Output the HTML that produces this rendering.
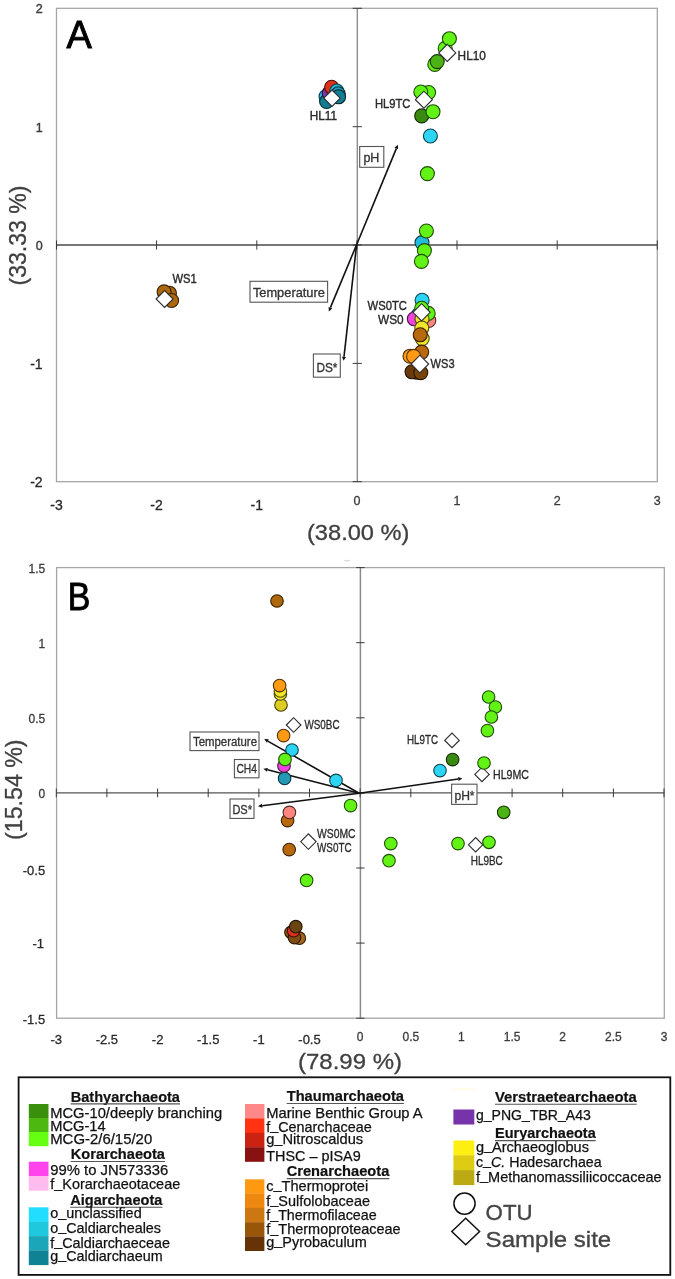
<!DOCTYPE html>
<html lang="en"><head><meta charset="utf-8"><title>Figure</title>
<style>html,body{margin:0;padding:0;background:#fff}svg{display:block}text{font-family:'Liberation Sans', sans-serif}</style></head><body>
<svg width="675" height="1279" viewBox="0 0 675 1279">
<rect width="675" height="1279" fill="#fff"/>
<rect x="56.5" y="8.3" width="600.8" height="473.4" fill="none" stroke="#a6a6a6" stroke-width="1.3"/>
<line x1="357.3" y1="8.3" x2="357.3" y2="481.7" stroke="#8e8e8e" stroke-width="1.4"/>
<line x1="56.5" y1="245.0" x2="657.3" y2="245.0" stroke="#4a4a4a" stroke-width="1.3"/>
<line x1="56.5" y1="240.4" x2="56.5" y2="249.6" stroke="#3a3a3a" stroke-width="1"/>
<line x1="156.6" y1="240.4" x2="156.6" y2="249.6" stroke="#3a3a3a" stroke-width="1"/>
<line x1="256.8" y1="240.4" x2="256.8" y2="249.6" stroke="#3a3a3a" stroke-width="1"/>
<line x1="356.9" y1="240.4" x2="356.9" y2="249.6" stroke="#3a3a3a" stroke-width="1"/>
<line x1="457.0" y1="240.4" x2="457.0" y2="249.6" stroke="#3a3a3a" stroke-width="1"/>
<line x1="557.2" y1="240.4" x2="557.2" y2="249.6" stroke="#3a3a3a" stroke-width="1"/>
<line x1="657.3" y1="240.4" x2="657.3" y2="249.6" stroke="#3a3a3a" stroke-width="1"/>
<line x1="352.7" y1="481.7" x2="361.9" y2="481.7" stroke="#3a3a3a" stroke-width="1"/>
<line x1="352.7" y1="363.4" x2="361.9" y2="363.4" stroke="#3a3a3a" stroke-width="1"/>
<line x1="352.7" y1="245.0" x2="361.9" y2="245.0" stroke="#3a3a3a" stroke-width="1"/>
<line x1="352.7" y1="126.7" x2="361.9" y2="126.7" stroke="#3a3a3a" stroke-width="1"/>
<line x1="352.7" y1="8.3" x2="361.9" y2="8.3" stroke="#3a3a3a" stroke-width="1"/>
<text x="42.8" y="13.4" font-size="12.5" text-anchor="end" fill="#3c3c3c" font-weight="normal" stroke="#3c3c3c" stroke-width="0.4">2</text>
<text x="42.8" y="131.8" font-size="12.5" text-anchor="end" fill="#3c3c3c" font-weight="normal" stroke="#3c3c3c" stroke-width="0.4">1</text>
<text x="42.8" y="250.1" font-size="12.5" text-anchor="end" fill="#3c3c3c" font-weight="normal" stroke="#3c3c3c" stroke-width="0.4">0</text>
<text x="42.6" y="368.6" font-size="14" text-anchor="end" fill="#2a2a2a" font-weight="normal" stroke="#2a2a2a" stroke-width="0.3">-1</text>
<text x="42.6" y="486.9" font-size="14" text-anchor="end" fill="#2a2a2a" font-weight="normal" stroke="#2a2a2a" stroke-width="0.3">-2</text>
<text x="56.5" y="510.3" font-size="14" text-anchor="middle" fill="#2a2a2a" font-weight="normal" stroke="#2a2a2a" stroke-width="0.3">-3</text>
<text x="156.6" y="510.3" font-size="14" text-anchor="middle" fill="#2a2a2a" font-weight="normal" stroke="#2a2a2a" stroke-width="0.3">-2</text>
<text x="256.8" y="510.3" font-size="14" text-anchor="middle" fill="#2a2a2a" font-weight="normal" stroke="#2a2a2a" stroke-width="0.3">-1</text>
<text x="356.9" y="505.4" font-size="12.5" text-anchor="middle" fill="#3c3c3c" font-weight="normal" stroke="#3c3c3c" stroke-width="0.3">0</text>
<text x="457.0" y="505.4" font-size="12.5" text-anchor="middle" fill="#3c3c3c" font-weight="normal" stroke="#3c3c3c" stroke-width="0.3">1</text>
<text x="557.2" y="505.4" font-size="12.5" text-anchor="middle" fill="#3c3c3c" font-weight="normal" stroke="#3c3c3c" stroke-width="0.3">2</text>
<text x="657.3" y="505.4" font-size="12.5" text-anchor="middle" fill="#3c3c3c" font-weight="normal" stroke="#3c3c3c" stroke-width="0.3">3</text>
<text x="358.2" y="540" font-size="22.3" text-anchor="middle" fill="#404040" font-weight="normal" textLength="102.4" lengthAdjust="spacingAndGlyphs" stroke="#404040" stroke-width="0.3">(38.00 %)</text>
<text transform="translate(25.6 235.5) rotate(-90)" font-size="23.4" text-anchor="middle" fill="#404040" stroke="#404040" stroke-width="0.3" textLength="100" lengthAdjust="spacingAndGlyphs">(33.33 %)</text>
<text x="66.5" y="48.4" font-size="38" text-anchor="start" fill="#000" font-weight="normal" stroke="#000" stroke-width="0.9">A</text>
<line x1="356.6" y1="244.7" x2="396.3" y2="148.6" stroke="#111" stroke-width="1.6"/>
<path d="M397.9 144.7L398.1 149.3L394.4 147.8Z" fill="#111"/>
<line x1="356.6" y1="244.7" x2="330.4" y2="307.6" stroke="#111" stroke-width="1.6"/>
<path d="M328.8 311.5L328.6 306.9L332.3 308.4Z" fill="#111"/>
<line x1="356.6" y1="244.7" x2="344.0" y2="356.6" stroke="#111" stroke-width="1.6"/>
<path d="M343.5 360.8L342.0 356.4L346.0 356.9Z" fill="#111"/>
<rect x="359.7" y="146.5" width="24.1" height="20.8" fill="#fff" stroke="#555" stroke-width="1.1"/>
<text x="371.4" y="161.7" font-size="13.5" text-anchor="middle" fill="#333" font-weight="normal" textLength="16" lengthAdjust="spacingAndGlyphs" stroke="#333" stroke-width="0.35">pH</text>
<rect x="250" y="281.3" width="77.6" height="20.9" fill="#fff" stroke="#555" stroke-width="1.1"/>
<text x="288.9" y="297.3" font-size="13.5" text-anchor="middle" fill="#333" font-weight="normal" textLength="72" lengthAdjust="spacingAndGlyphs" stroke="#333" stroke-width="0.35">Temperature</text>
<rect x="313.4" y="354" width="26.9" height="23.2" fill="#fff" stroke="#555" stroke-width="1.1"/>
<text x="326.9" y="371.5" font-size="13.5" text-anchor="middle" fill="#333" font-weight="normal" textLength="21" lengthAdjust="spacingAndGlyphs" stroke="#333" stroke-width="0.35">DS*</text>
<circle cx="434.8" cy="64.4" r="7.0" fill="#62f216" stroke="#1f4d07" stroke-width="1.1"/>
<circle cx="437.2" cy="61.6" r="7.0" fill="#4db315" stroke="#183906" stroke-width="1.1"/>
<circle cx="445.2" cy="48.4" r="7.0" fill="#62f216" stroke="#1f4d07" stroke-width="1.1"/>
<circle cx="449.4" cy="38.7" r="7.0" fill="#62f216" stroke="#1f4d07" stroke-width="1.1"/>
<path d="M438.8 52.9L447.3 44.4L455.8 52.9L447.3 61.4Z" fill="#fff" stroke="#2b2b30" stroke-width="1.1"/>
<circle cx="428.6" cy="92.5" r="7.0" fill="#62f216" stroke="#1f4d07" stroke-width="1.1"/>
<circle cx="420.8" cy="92" r="7.0" fill="#62f216" stroke="#1f4d07" stroke-width="1.1"/>
<circle cx="421.7" cy="115.9" r="7.0" fill="#3a8a12" stroke="#122c05" stroke-width="1.1"/>
<circle cx="433" cy="111.7" r="7.0" fill="#62f216" stroke="#1f4d07" stroke-width="1.1"/>
<path d="M415.4 99.7L423.9 91.2L432.4 99.7L423.9 108.2Z" fill="#fff" stroke="#2b2b30" stroke-width="1.1"/>
<circle cx="430.4" cy="136" r="7.0" fill="#2dd4f4" stroke="#0e434e" stroke-width="1.1"/>
<circle cx="427.4" cy="173.6" r="7.0" fill="#62f216" stroke="#1f4d07" stroke-width="1.1"/>
<circle cx="422" cy="242.6" r="7.0" fill="#22bbdd" stroke="#0a3b46" stroke-width="1.1"/>
<circle cx="426.4" cy="231" r="7.0" fill="#62f216" stroke="#1f4d07" stroke-width="1.1"/>
<circle cx="424.4" cy="250.6" r="7.0" fill="#62f216" stroke="#1f4d07" stroke-width="1.1"/>
<circle cx="421.4" cy="261.4" r="7.0" fill="#62f216" stroke="#1f4d07" stroke-width="1.1"/>
<circle cx="422.1" cy="300.3" r="7.0" fill="#2dd4f4" stroke="#0e434e" stroke-width="1.1"/>
<circle cx="418.2" cy="315" r="7.0" fill="#22bbdd" stroke="#0a3b46" stroke-width="1.1"/>
<circle cx="414.3" cy="318.8" r="7.0" fill="#ee44dd" stroke="#4c1546" stroke-width="1.1"/>
<circle cx="428.8" cy="320.5" r="7.0" fill="#ff8580" stroke="#512a28" stroke-width="1.1"/>
<circle cx="428.2" cy="313.4" r="7.0" fill="#62f216" stroke="#1f4d07" stroke-width="1.1"/>
<circle cx="421.7" cy="308.3" r="7.0" fill="#62f216" stroke="#1f4d07" stroke-width="1.1"/>
<circle cx="422" cy="319" r="7.0" fill="#f0e62a" stroke="#4c490d" stroke-width="1.1"/>
<circle cx="421.8" cy="328" r="7.0" fill="#f0e62a" stroke="#4c490d" stroke-width="1.1"/>
<circle cx="422.2" cy="338.6" r="7.0" fill="#f0e62a" stroke="#4c490d" stroke-width="1.1"/>
<circle cx="420.2" cy="334.8" r="7.0" fill="#b9690d" stroke="#3b2104" stroke-width="1.1"/>
<path d="M413.0 312.3L421.6 303.7L430.20000000000005 312.3L421.6 320.90000000000003Z" fill="#fff" stroke="#2b2b30" stroke-width="1.1"/>
<circle cx="421.7" cy="352.1" r="7.0" fill="#b9690d" stroke="#3b2104" stroke-width="1.1"/>
<circle cx="410" cy="356.2" r="7.0" fill="#ff9a14" stroke="#513106" stroke-width="1.1"/>
<circle cx="413.6" cy="356.4" r="7.0" fill="#ff9a14" stroke="#513106" stroke-width="1.1"/>
<circle cx="417" cy="372.3" r="7.0" fill="#ad680b" stroke="#372103" stroke-width="1.1"/>
<circle cx="412" cy="371.8" r="7.0" fill="#6b3a0a" stroke="#221203" stroke-width="1.1"/>
<circle cx="420.8" cy="372.6" r="7.0" fill="#77430c" stroke="#261503" stroke-width="1.1"/>
<path d="M411.09999999999997 364L419.9 355.2L428.7 364L419.9 372.8Z" fill="#fff" stroke="#2b2b30" stroke-width="1.1"/>
<circle cx="326" cy="96.6" r="7.0" fill="#22bbdd" stroke="#0a3b46" stroke-width="1.1"/>
<circle cx="326.6" cy="101.5" r="7.0" fill="#147f92" stroke="#06282e" stroke-width="1.1"/>
<circle cx="329.2" cy="93.2" r="7.0" fill="#7a35b0" stroke="#271038" stroke-width="1.1"/>
<circle cx="331.6" cy="87.3" r="7.0" fill="#e0301a" stroke="#470f08" stroke-width="1.1"/>
<circle cx="336.8" cy="91" r="7.0" fill="#22bbdd" stroke="#0a3b46" stroke-width="1.1"/>
<circle cx="338.2" cy="93.8" r="7.0" fill="#2299b5" stroke="#0a3039" stroke-width="1.1"/>
<circle cx="338.6" cy="96.8" r="7.0" fill="#147f92" stroke="#06282e" stroke-width="1.1"/>
<path d="M323.8 98.2L332 90.0L340.2 98.2L332 106.4Z" fill="#fff" stroke="#2b2b30" stroke-width="1.1"/>
<circle cx="169.4" cy="293.2" r="7.0" fill="#ad680b" stroke="#372103" stroke-width="1.1"/>
<circle cx="164.1" cy="291.9" r="7.0" fill="#ad680b" stroke="#372103" stroke-width="1.1"/>
<circle cx="171.6" cy="300.5" r="7.0" fill="#ad680b" stroke="#372103" stroke-width="1.1"/>
<path d="M156.1 299L164.6 290.5L173.1 299L164.6 307.5Z" fill="#fff" stroke="#2b2b30" stroke-width="1.1"/>
<text x="457.6" y="60" font-size="13" text-anchor="start" fill="#2a2a2a" font-weight="normal" textLength="28.3" lengthAdjust="spacingAndGlyphs" stroke="#2a2a2a" stroke-width="0.4">HL10</text>
<text x="410.4" y="108" font-size="13" text-anchor="end" fill="#2a2a2a" font-weight="normal" textLength="35.5" lengthAdjust="spacingAndGlyphs" stroke="#2a2a2a" stroke-width="0.4">HL9TC</text>
<text x="309.7" y="120.3" font-size="13" text-anchor="start" fill="#2a2a2a" font-weight="normal" textLength="27.3" lengthAdjust="spacingAndGlyphs" stroke="#2a2a2a" stroke-width="0.4">HL11</text>
<text x="172.4" y="283" font-size="13" text-anchor="start" fill="#2a2a2a" font-weight="normal" textLength="24.3" lengthAdjust="spacingAndGlyphs" stroke="#2a2a2a" stroke-width="0.4">WS1</text>
<text x="407" y="310.4" font-size="13" text-anchor="end" fill="#2a2a2a" font-weight="normal" textLength="39.4" lengthAdjust="spacingAndGlyphs" stroke="#2a2a2a" stroke-width="0.4">WS0TC</text>
<text x="403.6" y="324.4" font-size="13" text-anchor="end" fill="#2a2a2a" font-weight="normal" textLength="25.6" lengthAdjust="spacingAndGlyphs" stroke="#2a2a2a" stroke-width="0.4">WS0</text>
<text x="430.6" y="368.4" font-size="13" text-anchor="start" fill="#2a2a2a" font-weight="normal" textLength="24" lengthAdjust="spacingAndGlyphs" stroke="#2a2a2a" stroke-width="0.4">WS3</text>
<path d="M344.3 560.2Q347 562 349.8 560.2" fill="none" stroke="#c8c8c8" stroke-width="0.9"/>
<rect x="56.6" y="567.6" width="607.7" height="450.6" fill="none" stroke="#a6a6a6" stroke-width="1.3"/>
<line x1="360.4" y1="567.6" x2="360.4" y2="1018.2" stroke="#8a8a8a" stroke-width="1.5"/>
<line x1="56.6" y1="792.9" x2="664.3" y2="792.9" stroke="#555" stroke-width="1.1"/>
<line x1="56.3" y1="788.5" x2="56.3" y2="797.3" stroke="#3a3a3a" stroke-width="1"/>
<line x1="106.9" y1="788.5" x2="106.9" y2="797.3" stroke="#3a3a3a" stroke-width="1"/>
<line x1="157.6" y1="788.5" x2="157.6" y2="797.3" stroke="#3a3a3a" stroke-width="1"/>
<line x1="208.2" y1="788.5" x2="208.2" y2="797.3" stroke="#3a3a3a" stroke-width="1"/>
<line x1="258.9" y1="788.5" x2="258.9" y2="797.3" stroke="#3a3a3a" stroke-width="1"/>
<line x1="309.5" y1="788.5" x2="309.5" y2="797.3" stroke="#3a3a3a" stroke-width="1"/>
<line x1="360.1" y1="788.5" x2="360.1" y2="797.3" stroke="#3a3a3a" stroke-width="1"/>
<line x1="410.8" y1="788.5" x2="410.8" y2="797.3" stroke="#3a3a3a" stroke-width="1"/>
<line x1="461.4" y1="788.5" x2="461.4" y2="797.3" stroke="#3a3a3a" stroke-width="1"/>
<line x1="512.1" y1="788.5" x2="512.1" y2="797.3" stroke="#3a3a3a" stroke-width="1"/>
<line x1="562.7" y1="788.5" x2="562.7" y2="797.3" stroke="#3a3a3a" stroke-width="1"/>
<line x1="613.4" y1="788.5" x2="613.4" y2="797.3" stroke="#3a3a3a" stroke-width="1"/>
<line x1="664.0" y1="788.5" x2="664.0" y2="797.3" stroke="#3a3a3a" stroke-width="1"/>
<line x1="356.2" y1="1018.2" x2="364.6" y2="1018.2" stroke="#3a3a3a" stroke-width="1"/>
<line x1="356.2" y1="943.1" x2="364.6" y2="943.1" stroke="#3a3a3a" stroke-width="1"/>
<line x1="356.2" y1="868.0" x2="364.6" y2="868.0" stroke="#3a3a3a" stroke-width="1"/>
<line x1="356.2" y1="792.9" x2="364.6" y2="792.9" stroke="#3a3a3a" stroke-width="1"/>
<line x1="356.2" y1="717.8" x2="364.6" y2="717.8" stroke="#3a3a3a" stroke-width="1"/>
<line x1="356.2" y1="642.7" x2="364.6" y2="642.7" stroke="#3a3a3a" stroke-width="1"/>
<line x1="356.2" y1="567.6" x2="364.6" y2="567.6" stroke="#3a3a3a" stroke-width="1"/>
<text x="45.3" y="572.5" font-size="12" text-anchor="end" fill="#3c3c3c" font-weight="normal" stroke="#3c3c3c" stroke-width="0.3">1.5</text>
<text x="45.3" y="647.6" font-size="12" text-anchor="end" fill="#3c3c3c" font-weight="normal" stroke="#3c3c3c" stroke-width="0.3">1</text>
<text x="45.3" y="722.7" font-size="12" text-anchor="end" fill="#3c3c3c" font-weight="normal" stroke="#3c3c3c" stroke-width="0.3">0.5</text>
<text x="45.3" y="797.8" font-size="12" text-anchor="end" fill="#3c3c3c" font-weight="normal" stroke="#3c3c3c" stroke-width="0.3">0</text>
<text x="45.2" y="874.5" font-size="13" text-anchor="end" fill="#2a2a2a" font-weight="normal" stroke="#2a2a2a" stroke-width="0.3">-0.5</text>
<text x="44" y="948.2" font-size="13" text-anchor="end" fill="#2a2a2a" font-weight="normal" stroke="#2a2a2a" stroke-width="0.3">-1</text>
<text x="45.2" y="1023.7" font-size="13" text-anchor="end" fill="#2a2a2a" font-weight="normal" stroke="#2a2a2a" stroke-width="0.3">-1.5</text>
<text x="56.3" y="1044" font-size="13" text-anchor="middle" fill="#2a2a2a" font-weight="normal" stroke="#2a2a2a" stroke-width="0.3">-3</text>
<text x="106.9" y="1044" font-size="13" text-anchor="middle" fill="#2a2a2a" font-weight="normal" stroke="#2a2a2a" stroke-width="0.3">-2.5</text>
<text x="157.6" y="1044" font-size="13" text-anchor="middle" fill="#2a2a2a" font-weight="normal" stroke="#2a2a2a" stroke-width="0.3">-2</text>
<text x="208.2" y="1044" font-size="13" text-anchor="middle" fill="#2a2a2a" font-weight="normal" stroke="#2a2a2a" stroke-width="0.3">-1.5</text>
<text x="258.9" y="1044" font-size="13" text-anchor="middle" fill="#2a2a2a" font-weight="normal" stroke="#2a2a2a" stroke-width="0.3">-1</text>
<text x="309.5" y="1044" font-size="13" text-anchor="middle" fill="#2a2a2a" font-weight="normal" stroke="#2a2a2a" stroke-width="0.3">-0.5</text>
<text x="360.1" y="1040.8" font-size="12" text-anchor="middle" fill="#3c3c3c" font-weight="normal" stroke="#3c3c3c" stroke-width="0.3">0</text>
<text x="410.8" y="1040.8" font-size="12" text-anchor="middle" fill="#3c3c3c" font-weight="normal" stroke="#3c3c3c" stroke-width="0.3">0.5</text>
<text x="461.4" y="1040.8" font-size="12" text-anchor="middle" fill="#3c3c3c" font-weight="normal" stroke="#3c3c3c" stroke-width="0.3">1</text>
<text x="512.1" y="1040.8" font-size="12" text-anchor="middle" fill="#3c3c3c" font-weight="normal" stroke="#3c3c3c" stroke-width="0.3">1.5</text>
<text x="562.7" y="1040.8" font-size="12" text-anchor="middle" fill="#3c3c3c" font-weight="normal" stroke="#3c3c3c" stroke-width="0.3">2</text>
<text x="613.4" y="1040.8" font-size="12" text-anchor="middle" fill="#3c3c3c" font-weight="normal" stroke="#3c3c3c" stroke-width="0.3">2.5</text>
<text x="664.0" y="1040.8" font-size="12" text-anchor="middle" fill="#3c3c3c" font-weight="normal" stroke="#3c3c3c" stroke-width="0.3">3</text>
<text x="350" y="1069" font-size="22" text-anchor="middle" fill="#404040" font-weight="normal" textLength="104" lengthAdjust="spacingAndGlyphs" stroke="#404040" stroke-width="0.3">(78.99 %)</text>
<text transform="translate(22.4 789.7) rotate(-90)" font-size="23.2" text-anchor="middle" fill="#404040" stroke="#404040" stroke-width="0.3" textLength="100.6" lengthAdjust="spacingAndGlyphs">(15.54 %)</text>
<text x="67.8" y="610.3" font-size="38" text-anchor="start" fill="#000" font-weight="normal" textLength="22.6" lengthAdjust="spacingAndGlyphs" stroke="#000" stroke-width="0.9">B</text>
<line x1="359.2" y1="793.2" x2="267.8" y2="741.1" stroke="#111" stroke-width="1.6"/>
<path d="M264.2 739L268.8 739.3L266.9 742.8Z" fill="#111"/>
<line x1="359.2" y1="793.2" x2="267.5" y2="769.8" stroke="#111" stroke-width="1.6"/>
<path d="M263.4 768.8L268.0 767.9L267.0 771.8Z" fill="#111"/>
<line x1="359.2" y1="793.2" x2="262.2" y2="805.8" stroke="#111" stroke-width="1.6"/>
<path d="M258 806.3L261.9 803.8L262.4 807.7Z" fill="#111"/>
<line x1="359.2" y1="793.2" x2="458.2" y2="779.0" stroke="#111" stroke-width="1.6"/>
<path d="M462.4 778.4L458.5 781.0L458.0 777.0Z" fill="#111"/>
<circle cx="277" cy="601" r="6.3" fill="#ad680b" stroke="#372103" stroke-width="1.1"/>
<circle cx="281" cy="705" r="6.3" fill="#ddcc22" stroke="#46410a" stroke-width="1.1"/>
<circle cx="280.4" cy="694" r="6.3" fill="#f0e62a" stroke="#4c490d" stroke-width="1.1"/>
<circle cx="280.4" cy="691" r="6.3" fill="#f0e62a" stroke="#4c490d" stroke-width="1.1"/>
<circle cx="279.6" cy="685.6" r="6.3" fill="#ff9a14" stroke="#513106" stroke-width="1.1"/>
<circle cx="283.6" cy="735.6" r="6.3" fill="#ff9a14" stroke="#513106" stroke-width="1.1"/>
<circle cx="292" cy="750" r="6.3" fill="#2dd4f4" stroke="#0e434e" stroke-width="1.1"/>
<circle cx="284.6" cy="778.4" r="6.3" fill="#2299b5" stroke="#0a3039" stroke-width="1.1"/>
<circle cx="284" cy="766" r="6.3" fill="#ee44dd" stroke="#4c1546" stroke-width="1.1"/>
<circle cx="285" cy="759.4" r="6.3" fill="#62f216" stroke="#1f4d07" stroke-width="1.1"/>
<circle cx="336" cy="780.4" r="6.3" fill="#2dd4f4" stroke="#0e434e" stroke-width="1.1"/>
<circle cx="350.6" cy="805.6" r="6.3" fill="#62f216" stroke="#1f4d07" stroke-width="1.1"/>
<circle cx="287.6" cy="820.6" r="6.3" fill="#b9690d" stroke="#3b2104" stroke-width="1.1"/>
<circle cx="289.4" cy="812.4" r="6.3" fill="#ff8580" stroke="#512a28" stroke-width="1.1"/>
<circle cx="289.2" cy="849.6" r="6.3" fill="#b9690d" stroke="#3b2104" stroke-width="1.1"/>
<circle cx="306.6" cy="880.4" r="6.3" fill="#62f216" stroke="#1f4d07" stroke-width="1.1"/>
<circle cx="291" cy="932.3" r="6.3" fill="#8a5510" stroke="#2c1b05" stroke-width="1.1"/>
<circle cx="299.3" cy="938.2" r="6.3" fill="#a5661a" stroke="#342008" stroke-width="1.1"/>
<circle cx="294.5" cy="937.6" r="6.3" fill="#7d4c10" stroke="#281805" stroke-width="1.1"/>
<circle cx="293.6" cy="930.7" r="6.3" fill="#e0301a" stroke="#470f08" stroke-width="1.1"/>
<circle cx="295.8" cy="926.7" r="6.3" fill="#6b4511" stroke="#221605" stroke-width="1.1"/>
<circle cx="488.6" cy="697" r="6.3" fill="#62f216" stroke="#1f4d07" stroke-width="1.1"/>
<circle cx="495.4" cy="707" r="6.3" fill="#62f216" stroke="#1f4d07" stroke-width="1.1"/>
<circle cx="491.4" cy="717" r="6.3" fill="#62f216" stroke="#1f4d07" stroke-width="1.1"/>
<circle cx="487.4" cy="730.6" r="6.3" fill="#62f216" stroke="#1f4d07" stroke-width="1.1"/>
<path d="M474.8 774.4L482 767.1999999999999L489.2 774.4L482 781.6Z" fill="#fff" stroke="#2b2b30" stroke-width="1.1"/>
<path d="M468.40000000000003 844.8L475.6 837.5999999999999L482.8 844.8L475.6 852.0Z" fill="#fff" stroke="#2b2b30" stroke-width="1.1"/>
<circle cx="452.6" cy="759.6" r="6.3" fill="#3a8a12" stroke="#122c05" stroke-width="1.1"/>
<circle cx="440" cy="770.6" r="6.3" fill="#2dd4f4" stroke="#0e434e" stroke-width="1.1"/>
<circle cx="484" cy="763" r="6.3" fill="#62f216" stroke="#1f4d07" stroke-width="1.1"/>
<circle cx="503.7" cy="812.3" r="6.3" fill="#4db315" stroke="#183906" stroke-width="1.1"/>
<circle cx="390.8" cy="843.6" r="6.3" fill="#62f216" stroke="#1f4d07" stroke-width="1.1"/>
<circle cx="389" cy="860.7" r="6.3" fill="#62f216" stroke="#1f4d07" stroke-width="1.1"/>
<circle cx="458" cy="843.6" r="6.3" fill="#62f216" stroke="#1f4d07" stroke-width="1.1"/>
<circle cx="489" cy="842.3" r="6.3" fill="#62f216" stroke="#1f4d07" stroke-width="1.1"/>
<path d="M286.3 725L293.6 717.7L300.90000000000003 725L293.6 732.3Z" fill="#fff" stroke="#2b2b30" stroke-width="1.1"/>
<path d="M300.7 841.6L308.4 833.9L316.09999999999997 841.6L308.4 849.3000000000001Z" fill="#fff" stroke="#2b2b30" stroke-width="1.1"/>
<path d="M444.7 740.4L452 733.1L459.3 740.4L452 747.6999999999999Z" fill="#fff" stroke="#2b2b30" stroke-width="1.1"/>
<rect x="190" y="732" width="69.0" height="18.6" fill="#fff" stroke="#555" stroke-width="1.1"/>
<text x="225" y="746" font-size="12" text-anchor="middle" fill="#333" font-weight="normal" textLength="64" lengthAdjust="spacingAndGlyphs" stroke="#333" stroke-width="0.3">Temperature</text>
<rect x="234.4" y="759.5" width="24.6" height="18.3" fill="#fff" stroke="#555" stroke-width="1.1"/>
<text x="246.7" y="773" font-size="12" text-anchor="middle" fill="#333" font-weight="normal" textLength="20.6" lengthAdjust="spacingAndGlyphs" stroke="#333" stroke-width="0.3">CH4</text>
<rect x="230" y="799" width="24.0" height="19.4" fill="#fff" stroke="#555" stroke-width="1.1"/>
<text x="242.2" y="814.4" font-size="12" text-anchor="middle" fill="#333" font-weight="normal" textLength="19.6" lengthAdjust="spacingAndGlyphs" stroke="#333" stroke-width="0.3">DS*</text>
<rect x="451.6" y="784.2" width="25.4" height="20.2" fill="#fff" stroke="#555" stroke-width="1.1"/>
<text x="464.5" y="800.2" font-size="12" text-anchor="middle" fill="#333" font-weight="normal" textLength="20.2" lengthAdjust="spacingAndGlyphs" stroke="#333" stroke-width="0.3">pH*</text>
<text x="304.4" y="728.6" font-size="12.1" text-anchor="start" fill="#2a2a2a" font-weight="normal" textLength="35.2" lengthAdjust="spacingAndGlyphs" stroke="#2a2a2a" stroke-width="0.3">WS0BC</text>
<text x="317" y="838" font-size="12.1" text-anchor="start" fill="#2a2a2a" font-weight="normal" textLength="38.6" lengthAdjust="spacingAndGlyphs" stroke="#2a2a2a" stroke-width="0.3">WS0MC</text>
<text x="317" y="852" font-size="12.1" text-anchor="start" fill="#2a2a2a" font-weight="normal" textLength="34.6" lengthAdjust="spacingAndGlyphs" stroke="#2a2a2a" stroke-width="0.3">WS0TC</text>
<text x="438" y="744" font-size="12.1" text-anchor="end" fill="#2a2a2a" font-weight="normal" textLength="31" lengthAdjust="spacingAndGlyphs" stroke="#2a2a2a" stroke-width="0.3">HL9TC</text>
<text x="493" y="779" font-size="12.1" text-anchor="start" fill="#2a2a2a" font-weight="normal" textLength="36" lengthAdjust="spacingAndGlyphs" stroke="#2a2a2a" stroke-width="0.3">HL9MC</text>
<text x="470.7" y="865" font-size="12.1" text-anchor="start" fill="#2a2a2a" font-weight="normal" textLength="32.1" lengthAdjust="spacingAndGlyphs" stroke="#2a2a2a" stroke-width="0.3">HL9BC</text>
<rect x="18.6" y="1077.3" width="651.7" height="197.6" fill="#fff" stroke="#111" stroke-width="1.8"/>
<text x="70.7" y="1101.6" font-size="14.4" text-anchor="start" fill="#111" font-weight="bold" textLength="109.3" lengthAdjust="spacingAndGlyphs" stroke="#111" stroke-width="0.2">Bathyarchaeota</text>
<line x1="70.7" y1="1103.9" x2="180.0" y2="1103.9" stroke="#555" stroke-width="1.1"/>
<rect x="28.8" y="1104" width="19.7" height="14.2" fill="#3a8f0d"/>
<rect x="28.8" y="1118" width="19.7" height="14.2" fill="#4db80f"/>
<rect x="28.8" y="1132" width="19.7" height="14.2" fill="#66ff11"/>
<text x="50.2" y="1118.2" font-size="14.4" text-anchor="start" fill="#111" font-weight="normal" textLength="172" lengthAdjust="spacingAndGlyphs" stroke="#111" stroke-width="0.25">MCG-10/deeply branching</text>
<text x="50.2" y="1131.1" font-size="14.4" text-anchor="start" fill="#111" font-weight="normal" textLength="55.5" lengthAdjust="spacingAndGlyphs" stroke="#111" stroke-width="0.25">MCG-14</text>
<text x="50.2" y="1144.2" font-size="14.4" text-anchor="start" fill="#111" font-weight="normal" textLength="102" lengthAdjust="spacingAndGlyphs" stroke="#111" stroke-width="0.25">MCG-2/6/15/20</text>
<text x="70.7" y="1159.2" font-size="14.4" text-anchor="start" fill="#111" font-weight="bold" textLength="94.3" lengthAdjust="spacingAndGlyphs" stroke="#111" stroke-width="0.2">Korarchaeota</text>
<line x1="70.7" y1="1161.5" x2="165.0" y2="1161.5" stroke="#555" stroke-width="1.1"/>
<rect x="28.8" y="1161.7" width="19.7" height="14.5" fill="#ff44ee"/>
<rect x="28.8" y="1176" width="19.7" height="14.7" fill="#ffbbee"/>
<text x="50.2" y="1174.9" font-size="14.4" text-anchor="start" fill="#111" font-weight="normal" textLength="118" lengthAdjust="spacingAndGlyphs" stroke="#111" stroke-width="0.25">99% to JN573336</text>
<text x="50.2" y="1189.2" font-size="14.4" text-anchor="start" fill="#111" font-weight="normal" textLength="130" lengthAdjust="spacingAndGlyphs" stroke="#111" stroke-width="0.25">f<tspan dy="-1.7">_</tspan><tspan dy="1.7">Korarchaeotaceae</tspan></text>
<text x="70.2" y="1204.9" font-size="14.4" text-anchor="start" fill="#111" font-weight="bold" textLength="92.2" lengthAdjust="spacingAndGlyphs" stroke="#111" stroke-width="0.2">Aigarchaeota</text>
<line x1="70.2" y1="1207.2" x2="162.4" y2="1207.2" stroke="#555" stroke-width="1.1"/>
<rect x="28.8" y="1207.3" width="19.7" height="14.6" fill="#22ddff"/>
<rect x="28.8" y="1221.7" width="19.7" height="14.6" fill="#1fc8dc"/>
<rect x="28.8" y="1236.1" width="19.7" height="14.6" fill="#1ca6b9"/>
<rect x="28.8" y="1250.5" width="19.7" height="14.6" fill="#0f8293"/>
<text x="50.2" y="1218.2" font-size="14.4" text-anchor="start" fill="#111" font-weight="normal" textLength="91.5" lengthAdjust="spacingAndGlyphs" stroke="#111" stroke-width="0.25">o<tspan dy="-1.7">_</tspan><tspan dy="1.7">unclassified</tspan></text>
<text x="50.2" y="1232.6" font-size="14.4" text-anchor="start" fill="#111" font-weight="normal" textLength="110.8" lengthAdjust="spacingAndGlyphs" stroke="#111" stroke-width="0.25">o<tspan dy="-1.7">_</tspan><tspan dy="1.7">Caldiarcheales</tspan></text>
<text x="50.2" y="1247.6" font-size="14.4" text-anchor="start" fill="#111" font-weight="normal" textLength="119.8" lengthAdjust="spacingAndGlyphs" stroke="#111" stroke-width="0.25">f<tspan dy="-1.7">_</tspan><tspan dy="1.7">Caldiarchaeceae</tspan></text>
<text x="50.2" y="1260.9" font-size="14.4" text-anchor="start" fill="#111" font-weight="normal" textLength="112.5" lengthAdjust="spacingAndGlyphs" stroke="#111" stroke-width="0.25">g<tspan dy="-1.7">_</tspan><tspan dy="1.7">Caldiarchaeum</tspan></text>
<text x="286.7" y="1101.2" font-size="14.4" text-anchor="start" fill="#111" font-weight="bold" textLength="117.3" lengthAdjust="spacingAndGlyphs" stroke="#111" stroke-width="0.2">Thaumarchaeota</text>
<line x1="286.7" y1="1103.5" x2="404.0" y2="1103.5" stroke="#555" stroke-width="1.1"/>
<rect x="245" y="1104.0" width="19.4" height="14.6" fill="#ff8888"/>
<rect x="245" y="1118.4" width="19.4" height="14.6" fill="#ff3311"/>
<rect x="245" y="1132.8" width="19.4" height="14.6" fill="#cc2211"/>
<rect x="245" y="1147.2" width="19.4" height="14.6" fill="#881111"/>
<text x="266.2" y="1117.6" font-size="14.4" text-anchor="start" fill="#111" font-weight="normal" textLength="156.5" lengthAdjust="spacingAndGlyphs" stroke="#111" stroke-width="0.25">Marine Benthic Group A</text>
<text x="266.2" y="1131.6" font-size="14.4" text-anchor="start" fill="#111" font-weight="normal" textLength="105.5" lengthAdjust="spacingAndGlyphs" stroke="#111" stroke-width="0.25">f<tspan dy="-1.7">_</tspan><tspan dy="1.7">Cenarchaceae</tspan></text>
<text x="266.2" y="1144.2" font-size="14.4" text-anchor="start" fill="#111" font-weight="normal" textLength="97" lengthAdjust="spacingAndGlyphs" stroke="#111" stroke-width="0.25">g<tspan dy="-1.7">_</tspan><tspan dy="1.7">Nitroscaldus</tspan></text>
<text x="266.2" y="1160.9" font-size="14.4" text-anchor="start" fill="#111" font-weight="normal" textLength="94.5" lengthAdjust="spacingAndGlyphs" stroke="#111" stroke-width="0.25">THSC – pISA9</text>
<text x="286.7" y="1176.3" font-size="14.4" text-anchor="start" fill="#111" font-weight="bold" textLength="102.6" lengthAdjust="spacingAndGlyphs" stroke="#111" stroke-width="0.2">Crenarchaeota</text>
<line x1="286.7" y1="1178.6" x2="389.3" y2="1178.6" stroke="#555" stroke-width="1.1"/>
<rect x="245" y="1179.3" width="19.4" height="14.5" fill="#ff9911"/>
<rect x="245" y="1193.6" width="19.4" height="14.5" fill="#ee8811"/>
<rect x="245" y="1207.8999999999999" width="19.4" height="14.5" fill="#cc7711"/>
<rect x="245" y="1222.2" width="19.4" height="14.5" fill="#995508"/>
<rect x="245" y="1236.5" width="19.4" height="14.5" fill="#663308"/>
<text x="266.2" y="1190.9" font-size="14.4" text-anchor="start" fill="#111" font-weight="normal" textLength="102" lengthAdjust="spacingAndGlyphs" stroke="#111" stroke-width="0.25">c<tspan dy="-1.7">_</tspan><tspan dy="1.7">Thermoprotei</tspan></text>
<text x="266.2" y="1205.9" font-size="14.4" text-anchor="start" fill="#111" font-weight="normal" textLength="103.8" lengthAdjust="spacingAndGlyphs" stroke="#111" stroke-width="0.25">f<tspan dy="-1.7">_</tspan><tspan dy="1.7">Sulfolobaceae</tspan></text>
<text x="266.2" y="1220.2" font-size="14.4" text-anchor="start" fill="#111" font-weight="normal" textLength="110.5" lengthAdjust="spacingAndGlyphs" stroke="#111" stroke-width="0.25">f<tspan dy="-1.7">_</tspan><tspan dy="1.7">Thermofilaceae</tspan></text>
<text x="266.2" y="1234.2" font-size="14.4" text-anchor="start" fill="#111" font-weight="normal" textLength="134.5" lengthAdjust="spacingAndGlyphs" stroke="#111" stroke-width="0.25">f<tspan dy="-1.7">_</tspan><tspan dy="1.7">Thermoproteaceae</tspan></text>
<text x="266.2" y="1246.9" font-size="14.4" text-anchor="start" fill="#111" font-weight="normal" textLength="100.5" lengthAdjust="spacingAndGlyphs" stroke="#111" stroke-width="0.25">g<tspan dy="-1.7">_</tspan><tspan dy="1.7">Pyrobaculum</tspan></text>
<line x1="453.5" y1="1089.0" x2="473.5" y2="1089.0" stroke="#fffbe3" stroke-width="1.6"/>
<text x="495" y="1102.0" font-size="14.4" text-anchor="start" fill="#111" font-weight="bold" textLength="141.7" lengthAdjust="spacingAndGlyphs" stroke="#111" stroke-width="0.2">Verstraetearchaeota</text>
<line x1="495.0" y1="1104.3" x2="636.7" y2="1104.3" stroke="#555" stroke-width="1.1"/>
<rect x="453.4" y="1109.5" width="20.9" height="15" fill="#7733aa"/>
<text x="475.9" y="1120.2" font-size="14.4" fill="#111" stroke="#111" stroke-width="0.25" textLength="115" lengthAdjust="spacingAndGlyphs">g<tspan dy="-1.7">_</tspan><tspan dy="1.7">PNG</tspan><tspan dy="-1.7">_</tspan><tspan dy="1.7">TBR</tspan><tspan dy="-1.7">_</tspan><tspan dy="1.7">A43</tspan></text>
<text x="495" y="1138.3" font-size="14.4" text-anchor="start" fill="#111" font-weight="bold" textLength="100.7" lengthAdjust="spacingAndGlyphs" stroke="#111" stroke-width="0.2">Euryarchaeota</text>
<line x1="495.0" y1="1140.6" x2="595.7" y2="1140.6" stroke="#555" stroke-width="1.1"/>
<rect x="453.4" y="1140.5" width="20.9" height="15" fill="#ffee11"/>
<rect x="453.4" y="1155.3" width="20.9" height="15" fill="#ddcc11"/>
<rect x="453.4" y="1170.1" width="20.9" height="15" fill="#bbaa11"/>
<text x="475.9" y="1152.0" font-size="14.4" text-anchor="start" fill="#111" font-weight="normal" textLength="113" lengthAdjust="spacingAndGlyphs" stroke="#111" stroke-width="0.25">g<tspan dy="-1.7">_</tspan><tspan dy="1.7">Archaeoglobus</tspan></text>
<text x="475.9" y="1166.8" font-size="14.4" fill="#111" stroke="#111" stroke-width="0.25" textLength="125.8" lengthAdjust="spacingAndGlyphs">c<tspan dy="-1.7">_</tspan><tspan dy="1.7" font-style="italic">C.</tspan> Hadesarchaea</text>
<text x="475.9" y="1181.8" font-size="14.4" text-anchor="start" fill="#111" font-weight="normal" textLength="185.8" lengthAdjust="spacingAndGlyphs" stroke="#111" stroke-width="0.25">f<tspan dy="-1.7">_</tspan><tspan dy="1.7">Methanomassiliicoccaceae</tspan></text>
<circle cx="464.5" cy="1203.6" r="10.6" fill="#fff" stroke="#111" stroke-width="1.5"/>
<path d="M451.8 1231.5L465.7 1218.3L479.6 1231.5L465.7 1244.7Z" fill="#fff" stroke="#111" stroke-width="1.5"/>
<text x="485.6" y="1220" font-size="22.3" text-anchor="start" fill="#454545" font-weight="normal" textLength="47" lengthAdjust="spacingAndGlyphs" stroke="#454545" stroke-width="0.35">OTU</text>
<text x="485.6" y="1246.7" font-size="22.3" text-anchor="start" fill="#454545" font-weight="normal" textLength="125.6" lengthAdjust="spacingAndGlyphs" stroke="#454545" stroke-width="0.35">Sample site</text>
</svg></body></html>
